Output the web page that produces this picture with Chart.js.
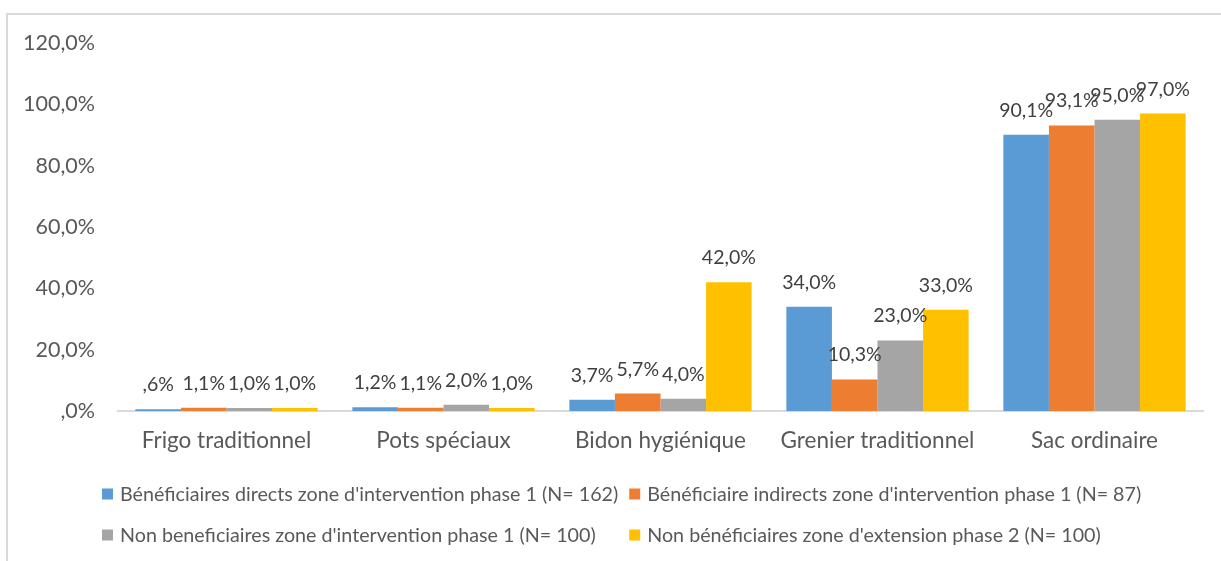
<!DOCTYPE html>
<html>
<head>
<meta charset="utf-8">
<script src="https://cdn.jsdelivr.net/npm/chart.js@4/dist/chart.umd.min.js"></script>
<style>
  html, body { margin: 0; padding: 0; background: #fff; overflow: hidden; width: 1221px; height: 561px; }
  #frame { position: absolute; left: 6px; top: 13px; width: 1300px; height: 700px; border: 2px solid #d9d9d9; box-sizing: border-box; }
  #c { position: absolute; left: 0; top: 0; }
</style>
</head>
<body>
<div id="frame"></div>
<canvas id="c" width="1221" height="561"></canvas>
<script>
const categories = ["Frigo traditionnel", "Pots spéciaux", "Bidon hygiénique", "Grenier traditionnel", "Sac ordinaire"];
const seriesNames = [
  "Bénéficiaires directs zone d'intervention phase 1 (N= 162)",
  "Bénéficiaire indirects zone d'intervention phase 1 (N= 87)",
  "Non beneficiaires zone d'intervention phase 1 (N= 100)",
  "Non bénéficiaires zone d'extension phase 2 (N= 100)"
];
const directsPhase1 = [0.6, 1.2, 3.7, 34.0, 90.1];
const indirectsPhase1 = [1.1, 1.1, 5.7, 10.3, 93.1];
const nonBenefPhase1 = [1.0, 2.0, 4.0, 23.0, 95.0];
const nonBenefPhase2 = [1.0, 1.0, 42.0, 33.0, 97.0];
const yTicks = [0, 20, 40, 60, 80, 100, 120];
const colors = ["#5B9BD5", "#ED7D31", "#A5A5A5", "#FFC000"];

const FONT = "Lato, 'Open Sans', sans-serif";

function fmt(v) {
  let s = v.toFixed(1).replace('.', ',');
  if (s.startsWith('0')) s = s.slice(1);
  return s + '%';
}

const valueLabels = {
  id: 'valueLabels',
  afterDatasetsDraw(chart) {
    const ctx = chart.ctx;
    ctx.save();
    ctx.font = "19.5px " + FONT;
    ctx.fillStyle = "#404040";
    ctx.textAlign = "center";
    ctx.textBaseline = "alphabetic";
    chart.data.datasets.forEach((ds, i) => {
      const meta = chart.getDatasetMeta(i);
      meta.data.forEach((el, j) => {
        ctx.fillText(fmt(ds.data[j]), el.x, el.y - 18);
      });
    });
    ctx.restore();
  }
};

const gridLegend = {
  id: 'gridLegend',
  afterDraw(chart) {
    const ctx = chart.ctx;
    ctx.save();
    ctx.font = "19.7px " + FONT;
    ctx.textBaseline = "middle";
    ctx.textAlign = "left";
    const box = 11, gapBox = 7, gapCol = 11;
    const ds = chart.data.datasets;
    const w = ds.map(d => box + gapBox + ctx.measureText(d.label).width);
    const col0 = Math.max(w[0], w[2]) + gapCol;
    const col1 = Math.max(w[1], w[3]);
    const total = col0 + col1;
    const x0 = Math.round((chart.width - total) / 2) + 11;
    const rowY = [chart.chartArea.bottom + 83, chart.chartArea.bottom + 124];
    ds.forEach((d, i) => {
      const col = i % 2, row = Math.floor(i / 2);
      const x = x0 + (col === 0 ? 0 : col0);
      const y = rowY[row];
      ctx.fillStyle = d.backgroundColor;
      ctx.fillRect(x, y - box / 2, box, box);
      ctx.fillStyle = "#595959";
      ctx.fillText(d.label, x + box + gapBox, y + 1);
    });
    ctx.restore();
  }
};

const seriesData = [directsPhase1, indirectsPhase1, nonBenefPhase1, nonBenefPhase2];

new Chart(document.getElementById('c'), {
  type: 'bar',
  data: {
    labels: categories,
    datasets: seriesData.map((d, i) => ({
      label: seriesNames[i],
      data: d,
      backgroundColor: colors[i],
      borderWidth: 0,
      categoryPercentage: 0.84,
      barPercentage: 1.0
    }))
  },
  options: {
    responsive: false,
    animation: false,
    devicePixelRatio: 1,
    layout: { padding: { left: 0, right: 18, top: 43, bottom: 90 } },
    plugins: {
      legend: { display: false },
      tooltip: { enabled: false }
    },
    scales: {
      x: {
        grid: { display: false, drawTicks: false },
        border: { display: true, color: '#d9d9d9', width: 2 },
        ticks: { font: { family: FONT, size: 22.5 }, color: '#595959', padding: 16, maxRotation: 0 },
        afterFit(scale) { scale.height = 60; }
      },
      y: {
        min: 0, max: 120,
        afterBuildTicks(scale) { scale.ticks = yTicks.map(v => ({ value: v })); },
        grid: { display: false, drawTicks: false },
        border: { display: false },
        ticks: { font: { family: FONT, size: 21.5 }, color: '#595959', padding: 23, callback: v => fmt(v) },
        afterFit(scale) { scale.width = 118; }
      }
    }
  },
  plugins: [valueLabels, gridLegend]
});
</script>
</body>
</html>
